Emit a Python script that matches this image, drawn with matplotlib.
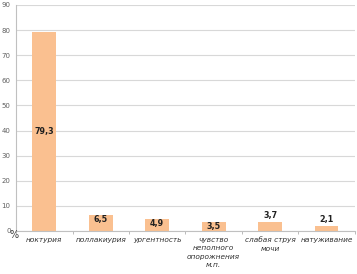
import matplotlib.pyplot as plt
import numpy as np

# symptom categories and share of patients, %
categories = ['ноктурия', 'поллакиурия', 'ургентность',
              'чувство\nнеполного\nопорожнения\nм.п.', 'слабая струя\nмочи', 'натуживание']
values = [79.3, 6.5, 4.9, 3.5, 3.7, 2.1]
value_labels = ['79,3', '6,5', '4,9', '3,5', '3,7', '2,1']
yticks = [0, 10, 20, 30, 40, 50, 60, 70, 80, 90]

bar_color = '#fac090'

fig = plt.figure(figsize=(3.57, 2.74), dpi=100)
ax = fig.add_axes([0.045, 0.157, 0.949, 0.825])

x = np.arange(len(categories))
ax.bar(x, values, width=0.42, color=bar_color, zorder=2)

ax.set_ylim(0, 90)
ax.set_xlim(-0.5, len(categories) - 0.5)
ax.set_yticks(yticks)
ax.set_yticklabels([str(t) for t in yticks], fontsize=5, color='#606060')
ax.yaxis.grid(True, color='#d8d8d8', linewidth=0.8, zorder=0)
ax.tick_params(axis='y', length=0, pad=4)

ax.set_xticks(x)
ax.set_xticklabels(categories, fontsize=5.3, style='italic', color='#303030', linespacing=1.5)
ax.tick_params(axis='x', length=0, pad=4)
ax.set_xticks(np.arange(len(categories) + 1) - 0.5, minor=True)
ax.tick_params(axis='x', which='minor', length=2, color='#b0b0b0')

for s in ['top', 'right']:
    ax.spines[s].set_visible(False)
ax.spines['left'].set_color('#c0c0c0')
ax.spines['bottom'].set_color('#c0c0c0')

# data labels
for i, (v, lab) in enumerate(zip(values, value_labels)):
    if v > 20:
        y = v / 2
    elif i >= 4:
        y = v + 2.3
    else:
        y = v - 1.8
    ax.text(i, y, lab, ha='center', va='center', fontsize=5.8, fontweight='bold',
            color='#202020', zorder=3)

fig.text(0.028, 0.13, '%', fontsize=7, color='#404040')

fig.savefig('out.png', dpi=100)
